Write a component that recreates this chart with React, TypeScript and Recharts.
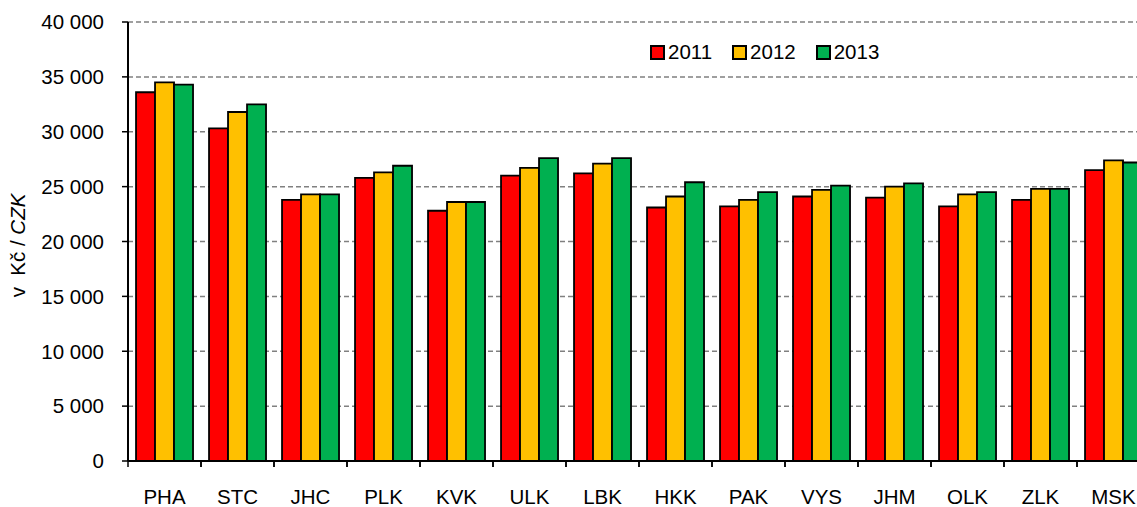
import { BarChart, Bar, XAxis, YAxis, CartesianGrid } from 'recharts'

const regions = ['PHA', 'STC', 'JHC', 'PLK', 'KVK', 'ULK', 'LBK', 'HKK', 'PAK', 'VYS', 'JHM', 'OLK', 'ZLK', 'MSK']
const y2011 = [33600, 30300, 23800, 25800, 22800, 26000, 26200, 23100, 23200, 24100, 24000, 23200, 23800, 26500]
const y2012 = [34500, 31800, 24300, 26300, 23600, 26700, 27100, 24100, 23800, 24700, 25000, 24300, 24800, 27400]
const y2013 = [34300, 32500, 24300, 26900, 23600, 27600, 27600, 25400, 24500, 25100, 25300, 24500, 24800, 27200]
const yTicks = [0, 5000, 10000, 15000, 20000, 25000, 30000, 35000, 40000]

const series = [
  { key: 'y2011', name: '2011', color: '#ff0000' },
  { key: 'y2012', name: '2012', color: '#ffc000' },
  { key: 'y2013', name: '2013', color: '#00b050' },
]

const data = regions.map((region, i) => ({
  region,
  y2011: y2011[i],
  y2012: y2012[i],
  y2013: y2013[i],
}))

const FONT = '"Liberation Sans", Arial, sans-serif'
const FS = 20.5
const W = 1160
const H = 507
const AXIS_W = 128
const TOP = 22
const XAXIS_H = 46
const RIGHT = 10
const BAND = (W - AXIS_W - RIGHT) / regions.length
const PLOT_BOTTOM = H - XAXIS_H

function fmt(v: number) {
  if (v === 0) return '0'
  const s = String(v)
  return s.slice(0, s.length - 3) + '\u00a0' + s.slice(-3)
}

function XTick(props: any) {
  const { x, payload } = props
  return (
    <g>
      <line x1={x - BAND / 2} x2={x - BAND / 2} y1={PLOT_BOTTOM} y2={PLOT_BOTTOM + 6} stroke="#000" strokeWidth={1.5} />
      <line x1={x + BAND / 2} x2={x + BAND / 2} y1={PLOT_BOTTOM} y2={PLOT_BOTTOM + 6} stroke="#000" strokeWidth={1.5} />
      <text x={x} y={PLOT_BOTTOM + 43} textAnchor="middle" fill="#000" fontSize={FS} fontFamily={FONT}>
        {payload.value}
      </text>
    </g>
  )
}

function YLabel(props: any) {
  const vb = props.viewBox || { x: 0, y: TOP, width: AXIS_W, height: PLOT_BOTTOM - TOP }
  const cx = vb.x + 25
  const cy = vb.y + vb.height / 2 + 4
  return (
    <text
      x={cx}
      y={cy}
      transform={`rotate(-90 ${cx} ${cy})`}
      textAnchor="middle"
      fill="#000"
      fontSize={FS}
      fontFamily={FONT}
    >
      <tspan>{'v\u00a0 Kč / '}</tspan>
      <tspan fontStyle="italic">CZK</tspan>
    </text>
  )
}

function LegendBox() {
  return (
    <div
      style={{
        position: 'absolute',
        left: 650,
        top: 40,
        display: 'flex',
        gap: 20,
        fontFamily: FONT,
        fontSize: FS,
        color: '#000',
        lineHeight: '24px',
      }}
    >
      {series.map(s => (
        <div key={s.key} style={{ display: 'flex', alignItems: 'center', gap: 3 }}>
          <span style={{ width: 11, height: 11, background: s.color, border: '2px solid #000', display: 'inline-block' }} />
          <span>{s.name}</span>
        </div>
      ))}
    </div>
  )
}

export default function App() {
  return (
    <div style={{ position: 'absolute', left: 0, top: 0, width: 1137, height: 507, overflow: 'hidden', background: '#fff' }}>
      <BarChart
        width={W}
        height={H}
        data={data}
        margin={{ top: TOP, right: RIGHT, bottom: 0, left: 0 }}
        barGap={0}
        barCategoryGap="11%"
      >
        <CartesianGrid vertical={false} stroke="#808080" strokeDasharray="5 3" strokeWidth={1.5} />
        <XAxis
          dataKey="region"
          height={XAXIS_H}
          interval={0}
          tickLine={false}
          axisLine={{ stroke: '#000', strokeWidth: 2 }}
          tick={<XTick />}
        />
        <YAxis
          width={AXIS_W}
          domain={[0, 40000]}
          ticks={yTicks}
          tickFormatter={fmt}
          tickSize={6}
          tickMargin={18}
          tickLine={{ stroke: '#000', strokeWidth: 1.5 }}
          axisLine={{ stroke: '#000', strokeWidth: 2 }}
          tick={{ fill: '#000', fontSize: FS, fontFamily: FONT }}
          label={<YLabel />}
        />
        {series.map(s => (
          <Bar
            key={s.key}
            dataKey={s.key}
            name={s.name}
            fill={s.color}
            stroke="#000"
            strokeWidth={1.8}
            isAnimationActive={false}
          />
        ))}
      </BarChart>
      <LegendBox />
    </div>
  )
}
